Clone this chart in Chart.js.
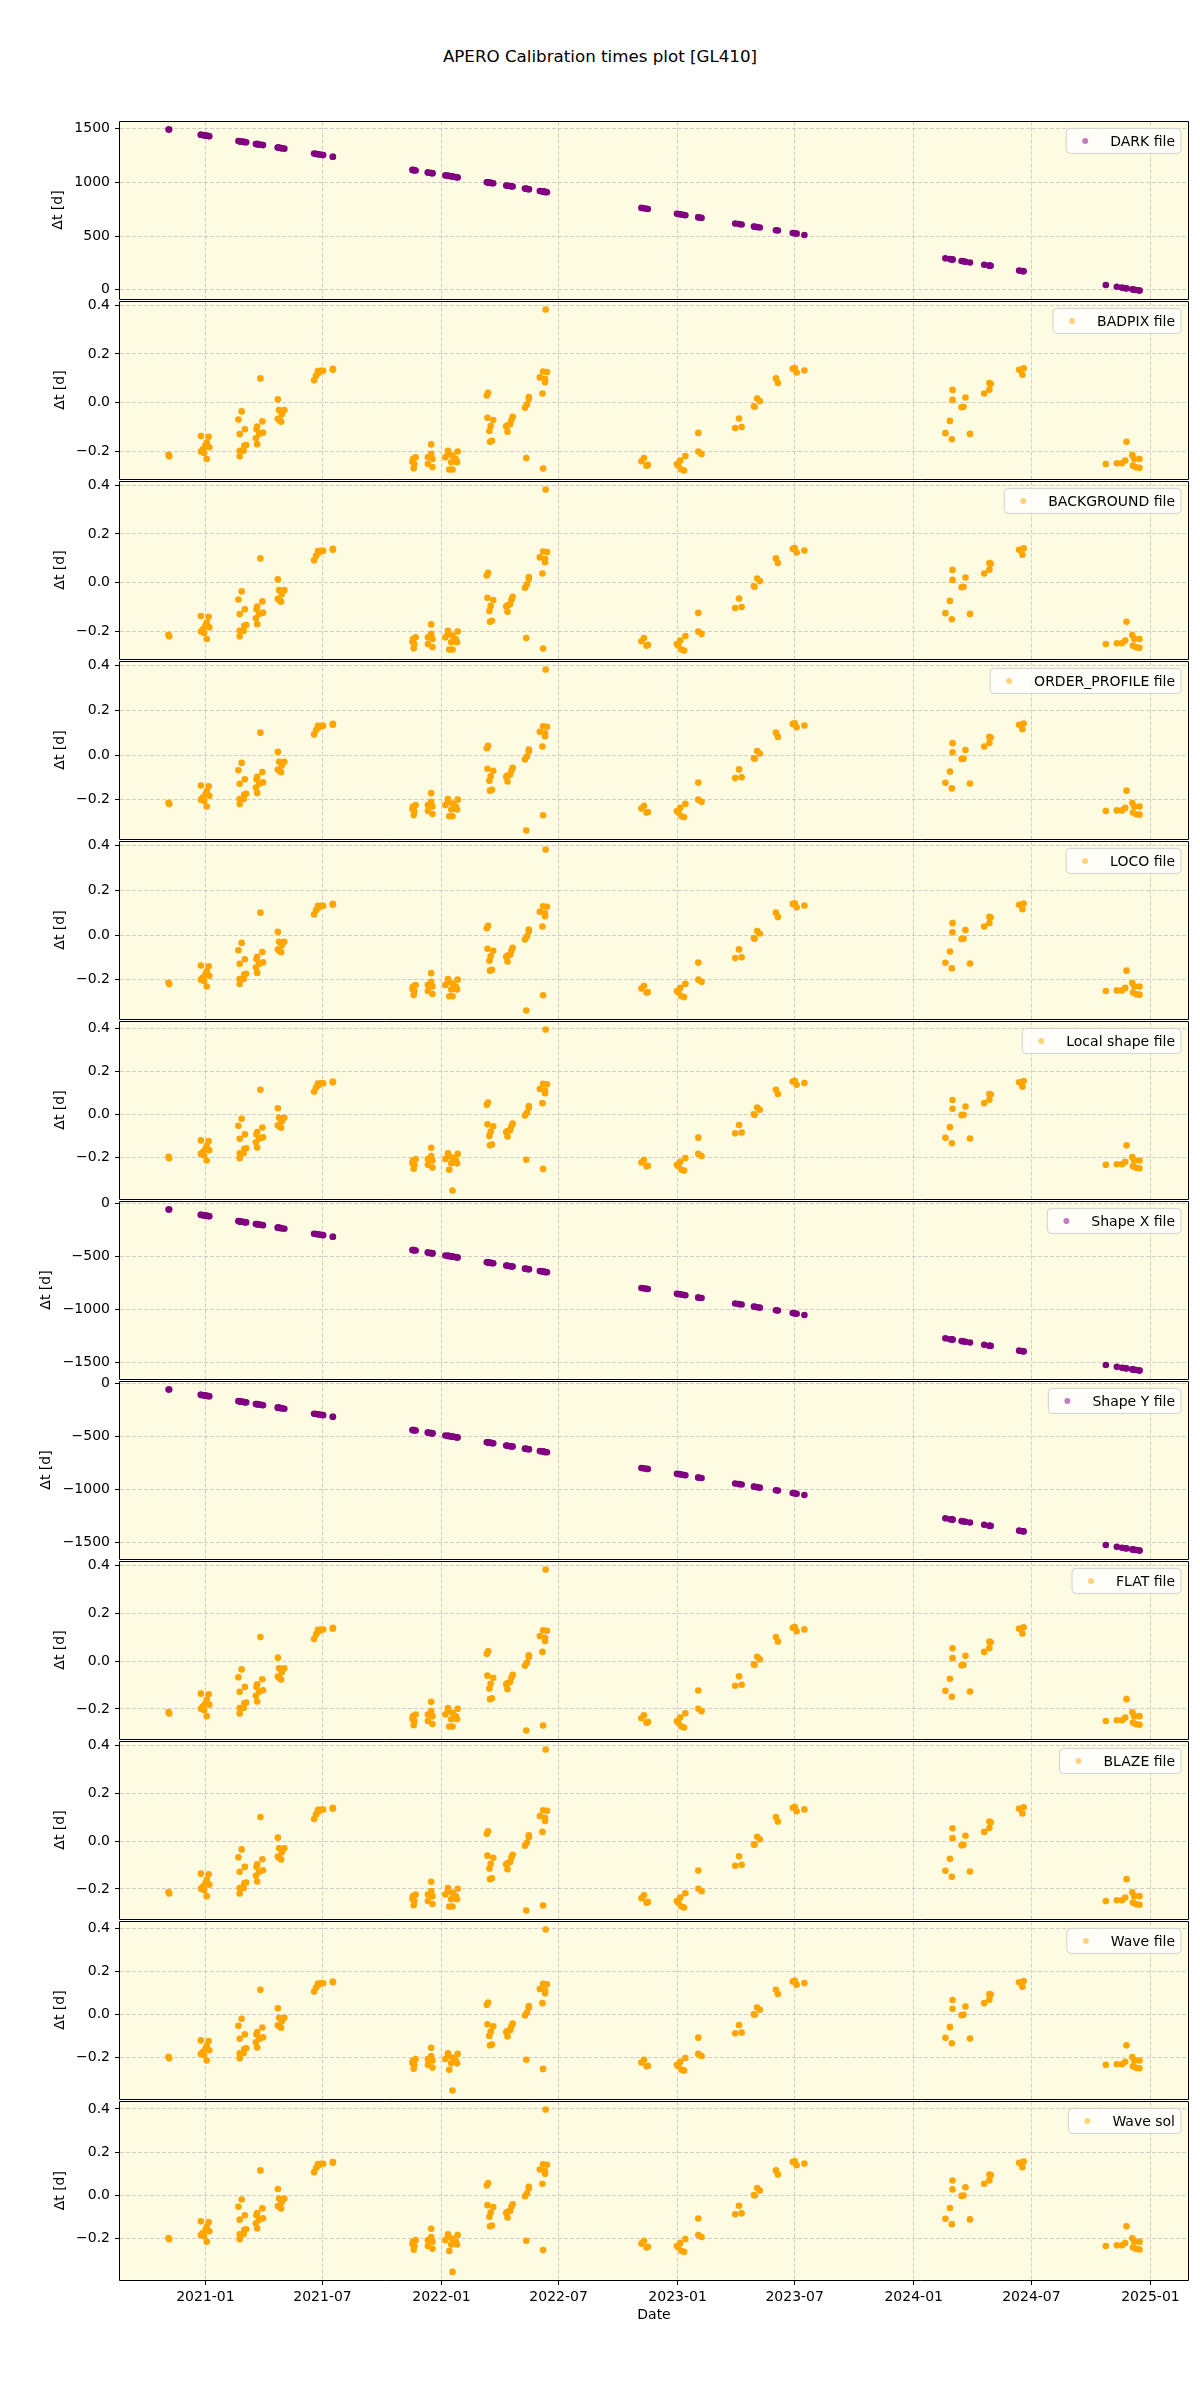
<!DOCTYPE html>
<html>
<head>
<meta charset="utf-8">
<script src="https://cdn.jsdelivr.net/npm/chart.js@4.4.1/dist/chart.umd.min.js"></script>
<style>
  body { margin: 0; background: #fff; width: 1200px; height: 2400px; position: relative; font-family: 'DejaVu Sans', sans-serif; }
  #title { position: absolute; top: 46px; left: 0; width: 1200px; text-align: center; font-size: 16.7px; line-height: 20px; color: #000; }
  canvas { position: absolute; left: 0; }
</style>
</head>
<body>
<div id="title">APERO Calibration times plot [GL410]</div>
<script>
// ── Data ────────────────────────────────────────────────────
// one entry per observation, clusters on one line each
const obsDates = [
  '2020-11-05','2020-11-06',
  '2020-12-25','2020-12-25','2020-12-28','2020-12-30','2021-01-01','2021-01-03','2021-01-03','2021-01-06','2021-01-07',
  '2021-02-21','2021-02-23','2021-02-23','2021-02-23','2021-02-26','2021-03-01','2021-03-02','2021-03-03','2021-03-05',
  '2021-03-20','2021-03-21','2021-03-22','2021-03-22','2021-03-25','2021-03-27','2021-03-30','2021-03-31',
  '2021-04-23','2021-04-23','2021-04-25','2021-04-25','2021-04-28','2021-04-29','2021-05-03',
  '2021-06-18','2021-06-21','2021-06-24','2021-06-25','2021-06-29','2021-07-02','2021-07-17','2021-07-17',
  '2021-11-17','2021-11-18','2021-11-19','2021-11-20','2021-11-22',
  '2021-12-11','2021-12-11','2021-12-16','2021-12-16','2021-12-18','2021-12-18',
  '2022-01-07','2022-01-11','2022-01-11','2022-01-13','2022-01-16','2022-01-18','2022-01-18','2022-01-23','2022-01-25','2022-01-26',
  '2022-03-12','2022-03-13','2022-03-14','2022-03-16','2022-03-17','2022-03-18','2022-03-20','2022-03-22',
  '2022-04-11','2022-04-13','2022-04-13','2022-04-17','2022-04-19','2022-04-21',
  '2022-05-10','2022-05-12','2022-05-13','2022-05-16','2022-05-16',
  '2022-06-02','2022-06-06','2022-06-07','2022-06-07','2022-06-10','2022-06-10','2022-06-11','2022-06-13',
  '2022-11-06','2022-11-10','2022-11-14','2022-11-16',
  '2022-12-31','2023-01-02','2023-01-05','2023-01-07','2023-01-11','2023-01-13',
  '2023-02-02','2023-02-02','2023-02-07',
  '2023-03-31','2023-04-06','2023-04-10',
  '2023-04-29','2023-04-30','2023-05-04','2023-05-08',
  '2023-06-02','2023-06-05',
  '2023-06-28','2023-07-01','2023-07-04','2023-07-16',
  '2024-02-19','2024-02-26','2024-02-29','2024-03-01','2024-03-01','2024-03-15','2024-03-18','2024-03-21','2024-03-28',
  '2024-04-19','2024-04-27','2024-04-27','2024-04-29',
  '2024-06-12','2024-06-17','2024-06-19',
  '2024-10-24','2024-11-10','2024-11-18','2024-11-23','2024-11-25','2024-12-04','2024-12-05','2024-12-07','2024-12-10','2024-12-15','2024-12-15'
];

const darkDt = [
  1494, 1493,
  1444, 1444, 1441, 1439, 1437, 1435, 1435, 1432, 1431,
  1386, 1384, 1384, 1384, 1381, 1378, 1377, 1376, 1374,
  1359, 1358, 1357, 1357, 1354, 1352, 1349, 1348,
  1325, 1325, 1323, 1323, 1320, 1319, 1315,
  1269, 1266, 1263, 1262, 1258, 1255, 1240, 1240,
  1117, 1116, 1115, 1114, 1112,
  1093, 1093, 1088, 1088, 1086, 1086,
  1066, 1062, 1062, 1060, 1057, 1055, 1055, 1050, 1048, 1047,
  1002, 1001, 1000, 998, 997, 996, 994, 992,
  972, 970, 970, 966, 964, 962,
  943, 941, 940, 937, 937,
  920, 916, 915, 915, 912, 912, 911, 909,
  763, 759, 755, 753,
  708, 706, 703, 701, 697, 695,
  675, 675, 670,
  618, 612, 608,
  589, 588, 584, 580,
  555, 552,
  529, 526, 523, 511,
  293, 286, 283, 282, 282, 268, 265, 262, 255,
  233, 225, 225, 223,
  179, 174, 172,
  45, 28, 20, 15, 13, 4, 3, 1, -2, -7, -7
];

const shapeDt = [
  -59, -60,
  -110, -110, -113, -115, -117, -119, -119, -122, -123,
  -169, -171, -171, -171, -174, -177, -178, -179, -181,
  -196, -197, -198, -198, -201, -203, -206, -207,
  -230, -230, -232, -232, -235, -236, -240,
  -287, -290, -293, -294, -298, -301, -316, -316,
  -440, -441, -442, -443, -445,
  -464, -464, -470, -470, -472, -472,
  -492, -496, -496, -498, -501, -503, -503, -508, -510, -511,
  -556, -557, -558, -560, -561, -562, -564, -566,
  -587, -589, -589, -593, -595, -597,
  -616, -618, -619, -622, -622,
  -639, -643, -644, -644, -647, -647, -648, -650,
  -798, -802, -806, -808,
  -853, -855, -858, -860, -864, -866,
  -887, -887, -892,
  -944, -950, -954,
  -973, -974, -979, -983,
  -1008, -1011,
  -1034, -1037, -1040, -1052,
  -1272, -1280, -1283, -1284, -1284, -1298, -1301, -1304, -1311,
  -1333, -1341, -1341, -1343,
  -1388, -1393, -1395,
  -1523, -1540, -1548, -1553, -1555, -1564, -1565, -1567, -1570, -1575, -1575
];

const badpixDt = [
  -0.213, -0.219,
  -0.136, -0.199, -0.190, -0.205, -0.176, -0.162, -0.230, -0.139, -0.182,
  -0.068, -0.128, -0.196, -0.219, -0.035, -0.196, -0.176, -0.108, -0.173,
  -0.145, -0.108, -0.097, -0.169, -0.128, 0.100, -0.076, -0.122,
  0.014, -0.065, -0.030, -0.070, -0.077, -0.047, -0.030,
  0.092, 0.111, 0.130, 0.123, 0.131, 0.131, 0.139, 0.135,
  -0.241, -0.230, -0.268, -0.250, -0.223,
  -0.223, -0.250, -0.170, -0.209, -0.230, -0.263,
  -0.223, -0.196, -0.209, -0.273, -0.243, -0.216, -0.273, -0.230, -0.243, -0.199,
  0.030, -0.061, 0.041, -0.115, -0.159, -0.095, -0.155, -0.070,
  -0.097, -0.092, -0.118, -0.088, -0.070, -0.057,
  -0.020, -0.226, -0.007, 0.024, 0.016,
  0.104, 0.038, 0.128, -0.269, 0.097, 0.084, 0.382, 0.126,
  -0.239, -0.226, -0.257, -0.254,
  -0.250, -0.257, -0.236, -0.273, -0.277, -0.218,
  -0.123, -0.199, -0.209,
  -0.103, -0.064, -0.099,
  -0.014, -0.016, 0.018, 0.007,
  0.100, 0.081,
  0.139, 0.142, 0.124, 0.132,
  -0.124, -0.074, -0.149, 0.053, 0.012, -0.018, -0.016, 0.022, -0.127,
  0.038, 0.054, 0.081, 0.078,
  0.135, 0.115, 0.141,
  -0.250, -0.247, -0.247, -0.236, -0.159, -0.214, -0.257, -0.230, -0.264, -0.230, -0.266
];

// ORDER_PROFILE / LOCO: one low point in May 2022
const orderDt = [
  -0.213, -0.219,
  -0.136, -0.199, -0.190, -0.205, -0.176, -0.162, -0.230, -0.139, -0.182,
  -0.068, -0.128, -0.196, -0.219, -0.035, -0.196, -0.176, -0.108, -0.173,
  -0.145, -0.108, -0.097, -0.169, -0.128, 0.100, -0.076, -0.122,
  0.014, -0.065, -0.030, -0.070, -0.077, -0.047, -0.030,
  0.092, 0.111, 0.130, 0.123, 0.131, 0.131, 0.139, 0.135,
  -0.241, -0.230, -0.268, -0.250, -0.223,
  -0.223, -0.250, -0.170, -0.209, -0.230, -0.263,
  -0.223, -0.196, -0.209, -0.273, -0.243, -0.216, -0.273, -0.230, -0.243, -0.199,
  0.030, -0.061, 0.041, -0.115, -0.159, -0.095, -0.155, -0.070,
  -0.097, -0.092, -0.118, -0.088, -0.070, -0.057,
  -0.020, -0.337, -0.007, 0.024, 0.016,
  0.104, 0.038, 0.128, -0.269, 0.097, 0.084, 0.382, 0.126,
  -0.239, -0.226, -0.257, -0.254,
  -0.250, -0.257, -0.236, -0.273, -0.277, -0.218,
  -0.123, -0.199, -0.209,
  -0.103, -0.064, -0.099,
  -0.014, -0.016, 0.018, 0.007,
  0.100, 0.081,
  0.139, 0.142, 0.124, 0.132,
  -0.124, -0.074, -0.149, 0.053, 0.012, -0.018, -0.016, 0.022, -0.127,
  0.038, 0.054, 0.081, 0.078,
  0.135, 0.115, 0.141,
  -0.250, -0.247, -0.247, -0.236, -0.159, -0.214, -0.257, -0.230, -0.264, -0.230, -0.266
];

// FLAT / BLAZE
const flatDt = [
  -0.213, -0.219,
  -0.136, -0.199, -0.190, -0.205, -0.176, -0.162, -0.230, -0.139, -0.182,
  -0.068, -0.128, -0.196, -0.219, -0.035, -0.196, -0.176, -0.108, -0.173,
  -0.145, -0.108, -0.097, -0.169, -0.128, 0.100, -0.076, -0.122,
  0.014, -0.065, -0.030, -0.070, -0.077, -0.047, -0.030,
  0.092, 0.111, 0.130, 0.123, 0.131, 0.131, 0.139, 0.135,
  -0.241, -0.230, -0.268, -0.250, -0.223,
  -0.223, -0.250, -0.170, -0.209, -0.230, -0.263,
  -0.223, -0.196, -0.209, -0.273, -0.243, -0.216, -0.273, -0.230, -0.243, -0.199,
  0.030, -0.061, 0.041, -0.115, -0.159, -0.095, -0.155, -0.070,
  -0.097, -0.092, -0.118, -0.088, -0.070, -0.057,
  -0.020, -0.290, -0.007, 0.024, 0.016,
  0.104, 0.038, 0.128, -0.269, 0.097, 0.084, 0.382, 0.126,
  -0.239, -0.226, -0.257, -0.254,
  -0.250, -0.257, -0.236, -0.273, -0.277, -0.218,
  -0.123, -0.199, -0.209,
  -0.103, -0.064, -0.099,
  -0.014, -0.016, 0.018, 0.007,
  0.100, 0.081,
  0.139, 0.142, 0.124, 0.132,
  -0.124, -0.074, -0.149, 0.053, 0.012, -0.018, -0.016, 0.022, -0.127,
  0.038, 0.054, 0.081, 0.078,
  0.135, 0.115, 0.141,
  -0.250, -0.247, -0.247, -0.236, -0.159, -0.214, -0.257, -0.230, -0.264, -0.230, -0.266
];

// Local shape / Wave file / Wave sol: slightly higher, outlier in Jan 2022
const waveDt = [
  -0.198, -0.204,
  -0.121, -0.184, -0.175, -0.190, -0.161, -0.147, -0.215, -0.124, -0.167,
  -0.053, -0.113, -0.181, -0.204, -0.020, -0.181, -0.161, -0.093, -0.158,
  -0.130, -0.093, -0.082, -0.154, -0.113, 0.115, -0.061, -0.107,
  0.029, -0.050, -0.015, -0.055, -0.062, -0.032, -0.015,
  0.107, 0.126, 0.145, 0.138, 0.146, 0.146, 0.154, 0.150,
  -0.226, -0.215, -0.253, -0.235, -0.208,
  -0.208, -0.235, -0.155, -0.194, -0.215, -0.248,
  -0.208, -0.181, -0.194, -0.258, -0.228, -0.201, -0.355, -0.215, -0.228, -0.184,
  0.045, -0.046, 0.056, -0.100, -0.144, -0.080, -0.140, -0.055,
  -0.082, -0.077, -0.103, -0.073, -0.055, -0.042,
  -0.005, -0.211, 0.008, 0.039, 0.031,
  0.119, 0.053, 0.143, -0.254, 0.112, 0.099, 0.397, 0.141,
  -0.224, -0.211, -0.242, -0.239,
  -0.235, -0.242, -0.221, -0.258, -0.262, -0.203,
  -0.108, -0.184, -0.194,
  -0.088, -0.049, -0.084,
  0.001, -0.001, 0.033, 0.022,
  0.115, 0.096,
  0.154, 0.157, 0.139, 0.147,
  -0.109, -0.059, -0.134, 0.068, 0.027, -0.003, -0.001, 0.037, -0.112,
  0.053, 0.069, 0.096, 0.093,
  0.150, 0.130, 0.156,
  -0.235, -0.232, -0.232, -0.221, -0.144, -0.199, -0.242, -0.215, -0.249, -0.215, -0.251
];

const xTickLabels = ['2021-01', '2021-07', '2022-01', '2022-07', '2023-01', '2023-07', '2024-01', '2024-07', '2025-01'];
const darkTicks  = [0, 500, 1000, 1500];
const smallTicks = [-0.2, 0.0, 0.2, 0.4];
const shapeTicks = [-1500, -1000, -500, 0];

// ── Look ────────────────────────────────────────────────────
const ORANGE = '#ffa500';
const PURPLE = '#800080';
const BG     = '#fdfbe1';
const GRID   = 'rgba(170,170,185,0.55)';
const FONT   = '14px "DejaVu Sans"';

const PAD = 12, PANEL_H = 180, TOP0 = 120, XAXIS_H = 70, RIGHT_PAD = 12, AXIS_W = 120;

Chart.defaults.font.family = '"DejaVu Sans", sans-serif';
Chart.defaults.font.size = 14;
Chart.defaults.color = '#000';

const minus = s => s.replace('-', '\u2212');
const fmtSmall = v => minus(v.toFixed(1));
const fmtBig = v => minus(String(v));

const panels = [
  { label: 'DARK file',          values: darkDt,   color: PURPLE, ticks: darkTicks,  fmt: fmtBig },
  { label: 'BADPIX file',        values: badpixDt, color: ORANGE, ticks: smallTicks, fmt: fmtSmall },
  { label: 'BACKGROUND file',    values: badpixDt, color: ORANGE, ticks: smallTicks, fmt: fmtSmall },
  { label: 'ORDER_PROFILE file', values: orderDt,  color: ORANGE, ticks: smallTicks, fmt: fmtSmall },
  { label: 'LOCO file',          values: orderDt,  color: ORANGE, ticks: smallTicks, fmt: fmtSmall },
  { label: 'Local shape file',   values: waveDt,   color: ORANGE, ticks: smallTicks, fmt: fmtSmall },
  { label: 'Shape X file',       values: shapeDt,  color: PURPLE, ticks: shapeTicks, fmt: fmtBig },
  { label: 'Shape Y file',       values: shapeDt,  color: PURPLE, ticks: shapeTicks, fmt: fmtBig },
  { label: 'FLAT file',          values: flatDt,   color: ORANGE, ticks: smallTicks, fmt: fmtSmall },
  { label: 'BLAZE file',         values: flatDt,   color: ORANGE, ticks: smallTicks, fmt: fmtSmall },
  { label: 'Wave file',          values: waveDt,   color: ORANGE, ticks: smallTicks, fmt: fmtSmall },
  { label: 'Wave sol',           values: waveDt,   color: ORANGE, ticks: smallTicks, fmt: fmtSmall },
];

// x in ms, limits padded 5% like matplotlib autoscale
const xs = obsDates.map(d => Date.parse(d));
const xTickVals = xTickLabels.map(l => Date.parse(l + '-01'));
const xLo = Math.min(...xs), xHi = Math.max(...xs);
const xMin = xLo - (xHi - xLo) * 0.05, xMax = xHi + (xHi - xLo) * 0.05;

const withAlpha = (hex, a) => {
  const n = parseInt(hex.slice(1), 16);
  return `rgba(${n >> 16},${(n >> 8) & 255},${n & 255},${a})`;
};

// ── Panel background, frame, legend, y label ────────────────
const panelDecor = {
  id: 'panelDecor',
  beforeDraw(chart) {
    const { ctx, chartArea: a } = chart;
    ctx.save();
    ctx.fillStyle = BG;
    ctx.fillRect(a.left, a.top, a.right - a.left, a.bottom - a.top);
    ctx.restore();
  },
  afterDraw(chart, args, opts) {
    const { ctx, chartArea: a } = chart;
    const L = Math.round(a.left) - 0.5, R = Math.round(a.right) + 0.5;
    const T = Math.round(a.top) + 0.5, B = Math.round(a.bottom) + 0.5;
    ctx.save();
    ctx.strokeStyle = '#000';
    ctx.lineWidth = 1;
    ctx.beginPath();
    ctx.moveTo(L, T); ctx.lineTo(R, T); ctx.lineTo(R, B); ctx.lineTo(L, B); ctx.closePath();
    ctx.stroke();

    // legend box, upper right
    ctx.font = FONT;
    const tw = ctx.measureText(opts.label).width;
    const bw = tw + 50, bh = 25;
    const bx = a.right - 7 - bw, by = a.top + 7;
    ctx.beginPath();
    ctx.roundRect(bx, by, bw, bh, 4);
    ctx.fillStyle = 'rgba(255,255,255,0.8)';
    ctx.fill();
    ctx.strokeStyle = 'rgba(204,204,204,0.9)';
    ctx.lineWidth = 1;
    ctx.stroke();
    ctx.beginPath();
    ctx.arc(bx + 19, by + bh / 2, 3, 0, Math.PI * 2);
    ctx.fillStyle = withAlpha(opts.color, 0.5);
    ctx.fill();
    ctx.fillStyle = '#000';
    ctx.textBaseline = 'middle';
    ctx.textAlign = 'left';
    ctx.fillText(opts.label, bx + 44, by + bh / 2 + 1);

    // y label left of the tick labels
    const maxW = Math.max(...opts.ticks.map(t => ctx.measureText(opts.fmt(t)).width));
    const lx = a.left - 10 - maxW - 16;
    ctx.translate(lx, (a.top + a.bottom) / 2);
    ctx.rotate(-Math.PI / 2);
    ctx.textAlign = 'center';
    ctx.fillText('\u0394t [d]', 0, 0);
    ctx.restore();
  }
};

// ── One chart per panel ─────────────────────────────────────
panels.forEach((p, k) => {
  const last = k === panels.length - 1;
  const h = PAD + PANEL_H + (last ? XAXIS_H : PAD);
  const cv = document.createElement('canvas');
  cv.width = 1200; cv.height = h;
  cv.style.width = '1200px'; cv.style.height = h + 'px';
  cv.style.top = (TOP0 + k * PANEL_H - PAD) + 'px';
  document.body.appendChild(cv);

  const yLo = Math.min(...p.values), yHi = Math.max(...p.values);
  const yPad = (yHi - yLo) * 0.05;

  new Chart(cv, {
    type: 'scatter',
    data: {
      datasets: [{
        data: xs.map((x, i) => ({ x: x, y: p.values[i] })),
        backgroundColor: p.color,
        borderWidth: 0,
        pointRadius: 3.3,
        pointHoverRadius: 3.3,
      }]
    },
    options: {
      responsive: false,
      animation: false,
      events: [],
      layout: { padding: { top: PAD, bottom: last ? 0 : PAD, left: 0, right: RIGHT_PAD } },
      plugins: {
        legend: { display: false },
        tooltip: { enabled: false },
        panelDecor: { label: p.label, color: p.color, ticks: p.ticks, fmt: p.fmt },
      },
      scales: {
        x: {
          type: 'linear',
          min: xMin, max: xMax,
          afterBuildTicks: s => { s.ticks = xTickVals.map(v => ({ value: v })); },
          afterFit: s => { s.height = last ? XAXIS_H : 0; },
          ticks: {
            display: last, autoSkip: false, maxRotation: 0, padding: 4,
            callback: (v, i) => xTickLabels[i],
          },
          grid: { color: GRID, lineWidth: 1, drawTicks: last, tickLength: 5, tickColor: '#000', tickWidth: 1, tickBorderDash: [] },
          border: { display: false, dash: [4, 2] },
          title: { display: last, text: 'Date', font: { size: 14 }, padding: { top: 0, bottom: 26.6 } },
        },
        y: {
          min: yLo - yPad, max: yHi + yPad,
          afterBuildTicks: s => { s.ticks = p.ticks.map(v => ({ value: v })); },
          afterFit: s => { s.width = AXIS_W; },
          ticks: { padding: 5, callback: v => p.fmt(v) },
          grid: { color: GRID, lineWidth: 1, tickLength: 5, tickColor: '#000', tickWidth: 1, tickBorderDash: [] },
          border: { display: false, dash: [4, 2] },
        }
      }
    },
    plugins: [panelDecor]
  });
});
</script>
</body>
</html>
